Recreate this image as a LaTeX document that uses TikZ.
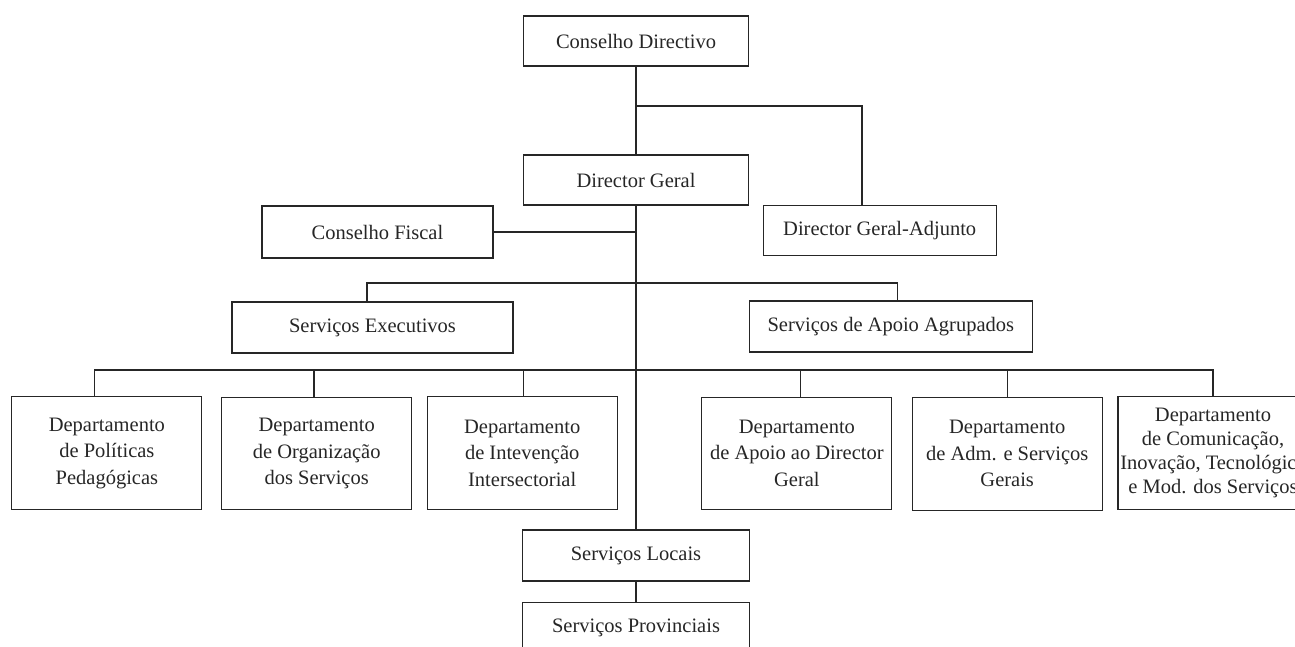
\documentclass[tikz,border=0pt]{standalone}
\usepackage{fontspec}
\setmainfont{Liberation Serif}
\begin{document}
\begin{tikzpicture}[x=1pt,y=-1pt,
	caixa/.style={draw=black!85,line width=1.1pt,text=black!85,align=center,inner sep=2pt,
		font=\fontsize{20.5}{26.5}\selectfont},
	topo/.style={caixa,minimum width=225,minimum height=50},
	dept/.style={caixa,minimum width=190,minimum height=112.5},
	linha/.style={draw=black!85,line width=1.1pt}]
	\clip (0,0) rectangle (1295,647);

	% Direcção
	\node[topo] (cd) at (636,41) {Conselho Directivo};
	\node[topo] (dg) at (636,180) {Director Geral};
	\node[caixa,minimum width=233,minimum height=50] (dga) at (879.7,230.7) {Director Geral-Adjunto};
	\node[caixa,minimum width=231,minimum height=52] (cf) at (377.5,232) {Conselho Fiscal};

	% Serviços
	\node[caixa,minimum width=281,minimum height=51] (se) at (372.5,327.5) {Serviços Executivos};
	\node[caixa,minimum width=283,minimum height=51] (saa) at (890.8,326.5) {Serviços de Apoio Agrupados};

	% Departamentos
	\node[dept] (d1) at (106.9,453) {Departamento\\de Políticas\\Pedagógicas};
	\node[dept] (d2) at (316.7,453.5) {Departamento\\de Organização\\dos Serviços};
	\node[dept] (d3) at (522.2,453) {Departamento\\de Intevenção\\Intersectorial};
	\node[dept] (d4) at (796.9,453.3) {Departamento\\de Apoio ao Director\\Geral};
	\node[dept] (d5) at (1007.2,453.8) {Departamento\\de Adm. e Serviços\\Gerais};
	\node[dept,font=\fontsize{20.5}{24}\selectfont] (d6) at (1213,453) {Departamento\\de Comunicação,\\Inovação, Tecnológica\\e Mod. dos Serviços};

	% Serviços locais
	\node[caixa,minimum width=227,minimum height=51] (sl) at (636,555.5) {Serviços Locais};
	\node[caixa,minimum width=227,minimum height=51] (sp) at (636,628) {Serviços Provinciais};

	% Ligações
	\coordinate (r1) at (636,106);
	\coordinate (bs) at (636,283);
	\coordinate (bd) at (636,370);
	\draw[linha] (cd.south) -- (dg.north);
	\draw[linha] (r1) -| ([xshift=-17.7pt]dga.north);
	\draw[linha] (dg.south) -- (sl.north);
	\draw[linha] (cf.east) -- (cf.east -| dg.south);
	\draw[linha] ([xshift=-5.5pt]se.north) |- (bs) -| ([xshift=7pt]saa.north);
	\foreach \d/\s in {d1/-12.6,d2/-2.7,d3/1,d4/4,d5/0,d6/0}
		\draw[linha] ([xshift=\s pt]\d.north) |- (bd);
	\draw[linha] (sl.south) -- (sp.north);

\end{tikzpicture}
\end{document}
